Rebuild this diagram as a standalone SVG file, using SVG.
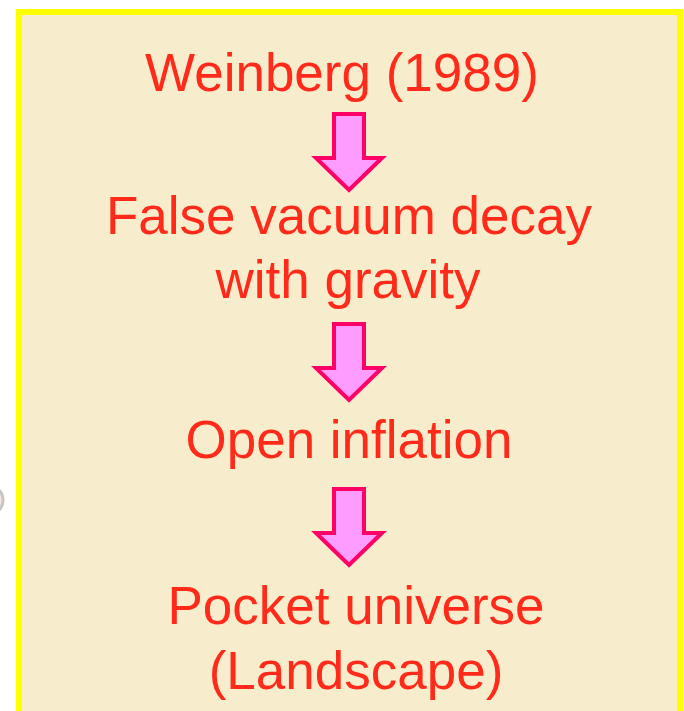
<svg xmlns="http://www.w3.org/2000/svg" xmlns:xlink="http://www.w3.org/1999/xlink" width="684" height="711" viewBox="0 0 684 711">
<style>
.t{font-family:"Liberation Sans",Arial,sans-serif;font-size:53px;fill:#ff2a1a;text-anchor:middle}
.arr{fill:#ff9cff;stroke:#ff0066;stroke-width:4;stroke-linejoin:miter}
</style>
<defs>
<path id="down" class="arr" d="M-15,0 H15 V44 H33 L0,76 L-33,44 H-15 Z"/>
</defs>
<rect width="684" height="711" fill="#ffffff"/>
<circle cx="-12" cy="500" r="15" fill="#f0e0c8" stroke="#b0b0b0" stroke-width="3" opacity="0.7"/>
<rect x="19" y="12" width="661" height="710" fill="#f7edcd" stroke="#ffff00" stroke-width="6"/>
<g id="n1"><text class="t" x="342" y="91">Weinberg (1989)</text></g>
<g id="n2"><text class="t" x="349" y="234">False vacuum decay</text><text class="t" x="348" y="298">with gravity</text></g>
<g id="n3"><text class="t" x="349" y="458">Open inflation</text></g>
<g id="n4"><text class="t" x="356" y="624">Pocket universe</text><text class="t" x="356" y="689">(Landscape)</text></g>
<g id="connectors">
<use xlink:href="#down" x="349" y="114"/>
<use xlink:href="#down" x="349" y="324"/>
<use xlink:href="#down" x="349" y="489"/>
</g>
</svg>
